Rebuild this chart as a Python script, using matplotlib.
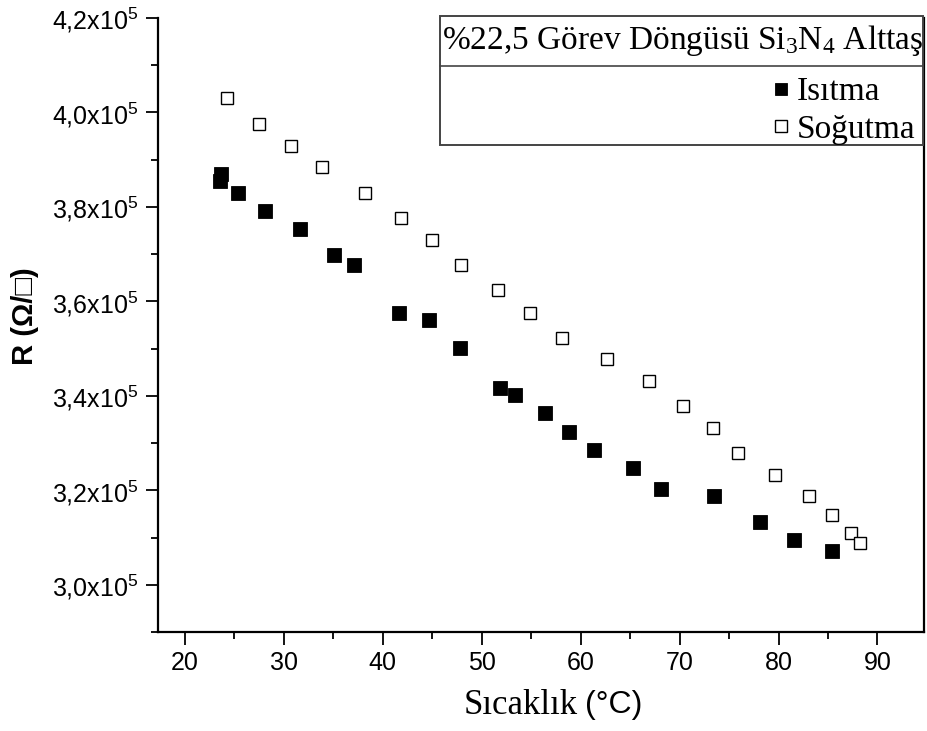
import matplotlib
matplotlib.use("Agg")
import matplotlib.pyplot as plt
from matplotlib.patches import Rectangle
from matplotlib.lines import Line2D
from matplotlib.ticker import MultipleLocator, FixedLocator

# ---- data ----
heat_T = [23.7, 23.6, 25.4, 28.15, 31.6, 35.1, 37.1, 41.65, 44.65, 47.8, 51.9, 53.4,
          56.4, 58.8, 61.35, 65.25, 68.1, 73.45, 78.1, 81.55, 85.4]
heat_R = [3.870, 3.855, 3.830, 3.792, 3.753, 3.699, 3.678, 3.576, 3.561, 3.501, 3.417, 3.401,
          3.363, 3.324, 3.285, 3.247, 3.202, 3.187, 3.133, 3.094, 3.072]
cool_T = [24.3, 27.5, 30.7, 33.9, 38.25, 41.85, 44.95, 47.9, 51.7, 54.9, 58.1, 62.7,
          66.9, 70.3, 73.4, 75.9, 79.6, 83.1, 85.4, 87.35, 88.25]
cool_R = [4.030, 3.976, 3.929, 3.885, 3.830, 3.777, 3.731, 3.678, 3.624, 3.576, 3.523, 3.477,
          3.432, 3.379, 3.332, 3.278, 3.232, 3.187, 3.148, 3.110, 3.088]
heat_R = [v * 1e5 for v in heat_R]
cool_R = [v * 1e5 for v in cool_R]

x_ticks = [20, 30, 40, 50, 60, 70, 80, 90]
y_ticks = [3.0e5, 3.2e5, 3.4e5, 3.6e5, 3.8e5, 4.0e5, 4.2e5]
y_ticklabels = ["3,0x10$\\mathregular{^5}$", "3,2x10$\\mathregular{^5}$", "3,4x10$\\mathregular{^5}$",
                "3,6x10$\\mathregular{^5}$", "3,8x10$\\mathregular{^5}$", "4,0x10$\\mathregular{^5}$",
                "4,2x10$\\mathregular{^5}$"]
legend_title = "%22,5 Görev Döngüsü Si$\\mathregular{_3}$N$\\mathregular{_4}$ Alttaş"
series_labels = ["Isıtma", "Soğutma"]

W, H = 928, 731
fig = plt.figure(figsize=(W / 100, H / 100), dpi=100)
L, R, T, B = 158, 924, 18, 632
ax = fig.add_axes([L / W, 1 - B / H, (R - L) / W, (B - T) / H])

ms = 9.5
ax.plot(heat_T, heat_R, ls='none', marker='s', ms=ms, mfc='black', mec='black', mew=0.6,
        label=series_labels[0], clip_on=False)
ax.plot(cool_T, cool_R, ls='none', marker='s', ms=ms - 0.6, mfc='white', mec='black', mew=1.0,
        label=series_labels[1], clip_on=False)

ax.set_xlim(17.3, 94.7)
ax.set_ylim(2.9e5, 4.2e5)

ax.spines['top'].set_visible(False)
for s in ['left', 'bottom', 'right']:
    ax.spines[s].set_linewidth(1.6)

ax.xaxis.set_major_locator(FixedLocator(x_ticks))
ax.xaxis.set_minor_locator(MultipleLocator(5))
ax.yaxis.set_major_locator(FixedLocator(y_ticks))
ax.yaxis.set_minor_locator(MultipleLocator(0.1e5))
ax.set_yticklabels(y_ticklabels)

ax.tick_params(axis='both', which='major', direction='out', length=9, width=1.3)
ax.tick_params(axis='both', which='minor', direction='out', length=5, width=1.3)
ax.tick_params(axis='y', which='both', right=False)

for lab in ax.get_yticklabels():
    lab.set_fontfamily(['Liberation Sans', 'DejaVu Sans'])
    lab.set_fontsize(18)
for lab in ax.get_xticklabels():
    lab.set_fontfamily(['Liberation Sans Narrow', 'Liberation Sans', 'DejaVu Sans'])
    lab.set_fontsize(18)
ax.tick_params(axis='x', pad=5)
ax.tick_params(axis='y', pad=5)

# x label: serif word + sans unit
fig.text(578 / W, 1 - 705 / H, "Sıcaklık", ha='right', va='center',
         fontsize=25, family=['Liberation Serif', 'DejaVu Serif'])
fig.text(585 / W, 1 - 705 / H, "(°C)", ha='left', va='center',
         fontsize=23, family=['Liberation Sans', 'DejaVu Sans'])

ax.set_ylabel("R (Ω/□)", fontsize=21, fontweight='bold',
              family=['Liberation Sans', 'DejaVu Sans'])
ax.yaxis.set_label_coords(-0.155, 0.515)

# legend box
bx0, bx1, by0, by1, bdiv = 440, 923, 16, 145, 66
fig.patches.append(Rectangle((bx0 / W, 1 - by1 / H), (bx1 - bx0) / W, (by1 - by0) / H,
                             transform=fig.transFigure, fill=True, fc='white',
                             ec='#444444', lw=1.4, zorder=5))
fig.lines.append(Line2D([bx0 / W, bx1 / W], [1 - bdiv / H, 1 - bdiv / H],
                        transform=fig.transFigure, color='#444444', lw=1.2, zorder=6))
fig.text((bx0 + bx1) / 2 / W + 1 / W, 1 - 41 / H, legend_title, ha='center', va='center',
         fontsize=24, family=['Liberation Serif', 'DejaVu Serif'], zorder=7)
leg = fig.legend(loc='upper right', bbox_to_anchor=(935 / W, 1 - 57 / H), frameon=False,
                 prop={'family': ['Liberation Serif', 'DejaVu Serif'], 'size': 24},
                 handletextpad=0.05, labelspacing=0.2, handlelength=0.8, borderpad=0.1,
                 markerscale=0.95)
leg.set_zorder(8)

fig.savefig("out.png", dpi=100)
